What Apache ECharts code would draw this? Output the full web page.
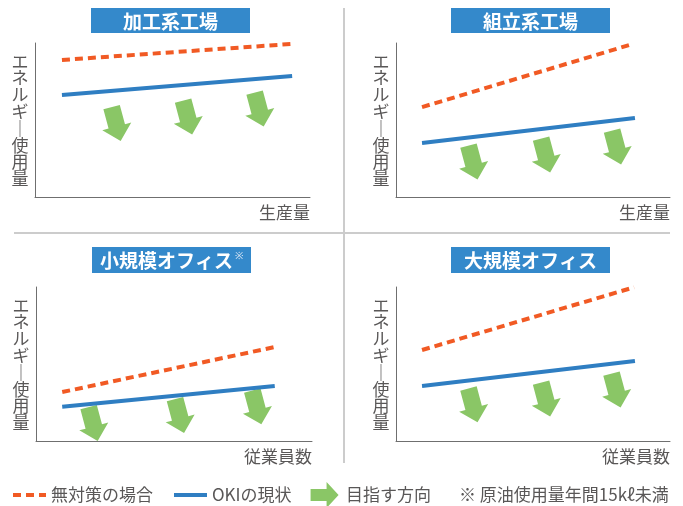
<!DOCTYPE html>
<html>
<head>
<meta charset="utf-8">
<script src="https://cdn.jsdelivr.net/npm/echarts@6/dist/echarts.min.js"></script>
<style>
html,body{margin:0;padding:0;background:#fff;}
#chart{width:683px;height:506px;}
</style>
</head>
<body>
<div id="chart"></div>
<script>
// ---- data ----
const panelTitles = ['加工系工場', '組立系工場', '小規模オフィス', '大規模オフィス'];
const panelTitleMarks = ['', '', '※', ''];
const xAxisNames = ['生産量', '生産量', '従業員数', '従業員数'];
const yAxisName = 'エネルギー使用量';
const legendNames = ['無対策の場合', 'OKIの現状', '目指す方向'];
const footnote = '※ 原油使用量年間15kℓ未満';
// relative values (0-100 scale on both axes)
const noActionLines = [
  [[9.8, 89.0], [93.5, 99.4]],
  [[9.5, 58.4], [86.5, 99.4]],
  [[9.5, 31.8], [86.5, 61.0]],
  [[9.5, 59.1], [86.9, 99.8]]
];
const okiLines = [
  [[9.8, 66.2], [93.5, 78.6]],
  [[9.5, 35.1], [87.2, 51.3]],
  [[9.5, 22.3], [86.5, 35.7]],
  [[9.5, 35.7], [87.2, 51.9]]
];
const arrowPoints = [
  [[29.5, 47.4], [55.5, 51.6], [81.5, 56.8]],
  [[28.1, 22.4], [54.6, 26.9], [80.5, 32.1]],
  [[20.7, 11.0], [52.0, 16.2], [80.0, 21.8]],
  [[28.1, 23.1], [54.6, 26.9], [80.3, 32.8]]
];

// ---- layout / style ----
const FONT = '"Noto Sans CJK JP", "Noto Sans", sans-serif';
const FS = 17;
const C_ORANGE = '#F15A24', C_BLUE = '#2F7EC2', C_GREEN = '#8AC666';
const C_TITLE = '#3489CB', C_TEXT = '#595757', C_AXIS = '#6f6f6f', C_DIV = '#CCCCCC';
const grids = [
  {left: 35, top: 43, width: 275, height: 154},
  {left: 396, top: 43, width: 274, height: 154},
  {left: 36, top: 287, width: 276, height: 154},
  {left: 396, top: 287, width: 274, height: 154}
];
const titleBoxes = [
  {x: 91, y: 8, w: 159, h: 25},
  {x: 451, y: 8, w: 159, h: 25},
  {x: 92, y: 247, w: 159, h: 26},
  {x: 451, y: 247, w: 159, h: 26}
];
const downArrow = 'path://M6.5,0 L23.5,0 L23.5,20 L30,20 L15,35 L0,20 L6.5,20 Z';
const rightArrow = 'path://M0,7 L16,7 L16,0 L28,13 L16,26 L16,19 L0,19 Z';

const verticalName = yAxisName.split('').map(c => c === 'ー' ? '｜' : c).join('\n');

const xAxes = [], yAxes = [], series = [], graphics = [];
grids.forEach((g, i) => {
  xAxes.push({
    gridIndex: i, type: 'value', min: 0, max: 100,
    axisLine: {show: true, lineStyle: {color: C_AXIS, width: 1}},
    axisTick: {show: false}, axisLabel: {show: false}, splitLine: {show: false},
    name: xAxisNames[i], nameLocation: 'end', nameGap: 0,
    nameTextStyle: {align: 'right', verticalAlign: 'top', padding: [7, 0, 0, 0],
      fontSize: FS, color: C_TEXT, fontFamily: FONT}
  });
  yAxes.push({
    gridIndex: i, type: 'value', min: 0, max: 100,
    axisLine: {show: true, lineStyle: {color: C_AXIS, width: 1}},
    axisTick: {show: false}, axisLabel: {show: false}, splitLine: {show: false},
    name: verticalName, nameLocation: 'middle', nameRotate: 0, nameGap: 15,
    nameTextStyle: {align: 'center', verticalAlign: 'middle', lineHeight: 16.8,
      fontSize: FS, color: C_TEXT, fontFamily: FONT}
  });
  series.push({
    name: legendNames[0], type: 'line', xAxisIndex: i, yAxisIndex: i,
    data: noActionLines[i], symbol: 'none', silent: true,
    lineStyle: {color: C_ORANGE, width: 4, type: [8, 5], cap: 'butt'},
    itemStyle: {color: C_ORANGE}
  });
  series.push({
    name: legendNames[1], type: 'line', xAxisIndex: i, yAxisIndex: i,
    data: okiLines[i], symbol: 'none', silent: true,
    lineStyle: {color: C_BLUE, width: 4, cap: 'butt'},
    itemStyle: {color: C_BLUE}
  });
  series.push({
    name: legendNames[2], type: 'scatter', xAxisIndex: i, yAxisIndex: i,
    data: arrowPoints[i], symbol: downArrow, symbolSize: [30, 35], symbolRotate: 15,
    silent: true, itemStyle: {color: C_GREEN, opacity: 1}
  });
  const b = titleBoxes[i];
  graphics.push({
    type: 'rect', shape: {x: b.x, y: b.y, width: b.w, height: b.h},
    style: {fill: C_TITLE}, z: 10
  });
  const mark = panelTitleMarks[i];
  graphics.push({
    type: 'text', z: 11,
    style: {
      text: panelTitles[i] + (mark ? '{s|' + mark + '}' : ''),
      x: b.x + b.w / 2, y: b.y + b.h / 2 + 1,
      align: 'center', verticalAlign: 'middle',
      textAlign: 'center', textVerticalAlign: 'middle',
      fill: '#ffffff', font: 'bold 19px ' + FONT,
      rich: {s: {fontSize: 10, fill: '#dfe9f5', verticalAlign: 'top', padding: [0, 0, 10, 2], font: '10px ' + FONT}}
    }
  });
});

// dividers
graphics.push({type: 'line', shape: {x1: 344, y1: 8, x2: 344, y2: 463}, style: {stroke: C_DIV, lineWidth: 2}});
graphics.push({type: 'line', shape: {x1: 14, y1: 233, x2: 670, y2: 233}, style: {stroke: C_DIV, lineWidth: 2}});
// footnote
graphics.push({
  type: 'text',
  style: {text: footnote, x: 459, y: 495, fill: C_TEXT, font: FS + 'px ' + FONT,
    align: 'left', verticalAlign: 'middle', textAlign: 'left', textVerticalAlign: 'middle'}
});

const hiddenSymbol = {color: 'rgba(0,0,0,0)', opacity: 0, borderWidth: 0};
const chart = echarts.init(document.getElementById('chart'), null, {renderer: 'canvas'});
chart.setOption({
  animation: false,
  backgroundColor: '#ffffff',
  grid: grids,
  xAxis: xAxes,
  yAxis: yAxes,
  series: series,
  legend: {
    left: 11, top: 482, padding: 0,
    itemWidth: 33, itemHeight: 26, itemGap: 19,
    symbolRotate: 0,
    selectedMode: false,
    textStyle: {fontSize: FS, color: C_TEXT, fontFamily: FONT},
    lineStyle: {width: 4},
    data: [
      {name: legendNames[0], itemStyle: hiddenSymbol},
      {name: legendNames[1], itemStyle: hiddenSymbol},
      {name: legendNames[2], icon: rightArrow, symbolRotate: 0}
    ]
  },
  graphic: graphics
});
</script>
</body>
</html>
